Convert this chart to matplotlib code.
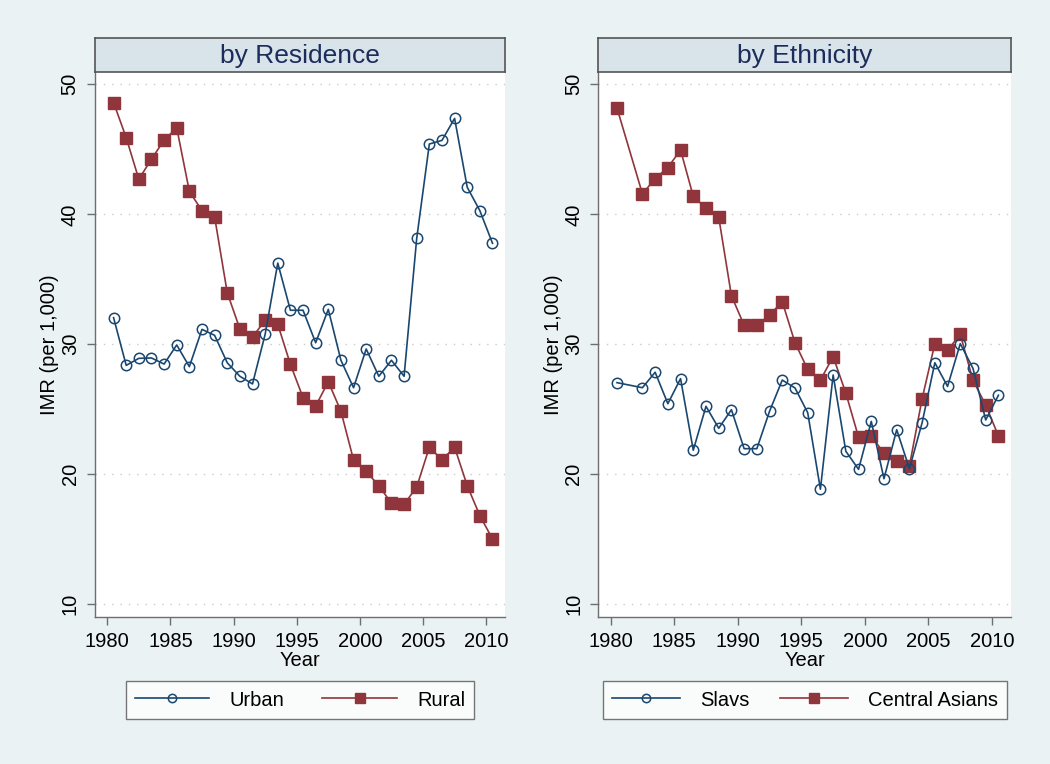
import matplotlib
matplotlib.use("Agg")
import matplotlib.pyplot as plt
from matplotlib.lines import Line2D

plt.rcParams['font.family'] = ['Liberation Sans', 'DejaVu Sans']

# Residence panel: one value per year, 1980.5 .. 2010.5
res_years = [y + 0.5 for y in range(1980, 2011)]
urban = [32.05, 28.38, 28.92, 28.95, 28.48, 29.95, 28.28, 31.15, 30.69, 28.58,
         27.54, 26.95, 30.77, 36.25, 32.62, 32.62, 30.12, 32.69, 28.77, 26.66,
         29.64, 27.54, 28.77, 27.54, 38.15, 45.41, 45.69, 47.38, 42.08, 40.28,
         37.77]
rural = [48.6, 45.9, 42.7, 44.25, 45.7, 46.66, 41.77, 40.28, 39.8, 33.97,
         31.18, 30.56, 31.85, 31.54, 28.46, 25.9, 25.25, 27.12, 24.85, 21.1,
         20.23, 19.12, 17.77, 17.69, 19.02, 22.08, 21.12, 22.08, 19.12, 16.82,
         15.02]

# Ethnicity panel: no value for 1981
eth_years = [1980.5] + [y + 0.5 for y in range(1982, 2011)]
slavs = [27.05, 26.66, 27.85, 25.43, 27.36, 21.85, 25.23, 23.54, 24.97, 21.97,
         21.97, 24.85, 27.25, 26.64, 24.74, 18.85, 27.64, 21.77, 20.38, 24.07,
         19.66, 23.43, 20.43, 23.97, 28.58, 26.76, 30.05, 28.15, 24.18, 26.08]
central_asians = [48.18, 41.58, 42.74, 43.6, 44.95, 41.38, 40.46, 39.79, 33.74,
                  31.46, 31.46, 32.25, 33.28, 30.12, 28.07, 27.25, 29.05, 26.25,
                  22.85, 22.95, 21.62, 21.02, 20.64, 25.82, 30.05, 29.54, 30.77,
                  27.23, 25.33, 22.95]

xticks = [1980, 1985, 1990, 1995, 2000, 2005, 2010]
yticks = [10, 20, 30, 40, 50]

BG = '#EAF2F3'
STRIP = '#D8E4EA'
NAVY = '#1A476F'
MAROON = '#90353B'
TITLE_C = '#1C2C5B'

fig = plt.figure(figsize=(10.5, 7.64), dpi=100, facecolor=BG)
W, H = 1050, 764


def panel(x0, x1, title, s1, s2, labels, legend_box, hlen, cspace):
    ax = fig.add_axes([x0 / W, 1 - 617 / H, (x1 - x0) / W, (617 - 72) / H])
    ax.set_facecolor('white')
    xs1, ys1 = s1
    xs2, ys2 = s2
    ax.plot(xs1, ys1, color=NAVY, lw=1.2, marker='o', ms=7.5, mfc='none',
            mec=NAVY, mew=1.1, zorder=3)
    ax.plot(xs2, ys2, color=MAROON, lw=1.2, marker='s', ms=8, mfc=MAROON,
            mec=MAROON, zorder=2)
    ax.set_xlim(1979.03, 2011.49)
    ax.set_ylim(9.02, 50.95)
    ax.set_xticks(xticks)
    ax.set_yticks(yticks)
    for y in yticks:
        ax.axhline(y, color='#C8CCCC', lw=1.0, ls=(0, (1, 5)), zorder=1)
    ax.tick_params(axis='both', labelsize=14.5, color='#6E6E6E', length=6,
                   width=1.0, direction='out')
    ax.tick_params(axis='x', pad=5)
    ax.tick_params(axis='y', pad=5)
    for lab in ax.get_yticklabels():
        lab.set_rotation(90)
        lab.set_va('center')
    for side in ['top', 'right']:
        ax.spines[side].set_visible(False)
    for side in ['left', 'bottom']:
        ax.spines[side].set_color('#6E6E6E')
        ax.spines[side].set_linewidth(1.0)
    ax.set_xlabel('Year', fontsize=14.5, labelpad=0)
    ax.set_ylabel('IMR (per 1,000)', fontsize=14.5, labelpad=1)

    # title strip
    st = fig.add_axes([x0 / W, 1 - 72.3 / H, (x1 - x0) / W, 34 / H])
    st.set_facecolor(STRIP)
    st.set_xticks([])
    st.set_yticks([])
    for sp in st.spines.values():
        sp.set_color('#555555')
        sp.set_linewidth(1.2)
    st.text(0.5, 0.47, title, ha='center', va='center', fontsize=19,
            color=TITLE_C, transform=st.transAxes)

    handles = [
        Line2D([], [], color=NAVY, lw=1.2, marker='o', ms=6, mfc='none',
               mec=NAVY, mew=1.1),
        Line2D([], [], color=MAROON, lw=1.2, marker='s', ms=6.5, mfc=MAROON,
               mec=MAROON),
    ]
    bx0, bx1 = legend_box
    leg = fig.legend(handles, labels, loc='center',
                     bbox_to_anchor=((bx0 + bx1) / 2 / W, 1 - 700 / H),
                     ncol=2, fontsize=14.5, frameon=True, fancybox=False,
                     handlelength=hlen, handletextpad=1.0, columnspacing=cspace,
                     borderpad=0.45, borderaxespad=0)
    leg.get_frame().set_edgecolor('#555555')
    leg.get_frame().set_linewidth(1.0)
    leg.get_frame().set_facecolor('white')
    return ax


panel(95, 505, 'by Residence', (res_years, urban), (res_years, rural),
      ['Urban', 'Rural'], (124, 476), 3.7, 1.9)
panel(598.3, 1011, 'by Ethnicity', (eth_years, slavs),
      (eth_years, central_asians), ['Slavs', 'Central Asians'], (605, 1005),
      3.4, 1.5)

fig.savefig('out.png', dpi=100, facecolor=BG)
